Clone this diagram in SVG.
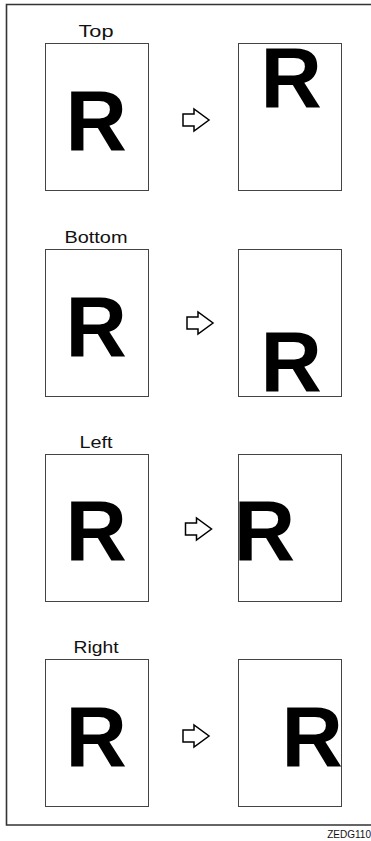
<svg xmlns="http://www.w3.org/2000/svg" width="371" height="841" viewBox="0 0 371 841">
<style>
.frame{fill:none;stroke:#333;stroke-width:1.6}
.page{fill:#fff;stroke:#444;stroke-width:1}
.lbl{font-family:"Liberation Sans",Arial,sans-serif;font-size:16px;fill:#111;text-anchor:middle}
.big{font-family:"Liberation Sans",Arial,sans-serif;font-size:85px;font-weight:bold;fill:#000}
.code{font-family:"Liberation Sans",Arial,sans-serif;font-size:10px;fill:#111;text-anchor:end}
.arrow{fill:#fff;stroke:#000;stroke-width:1.5;stroke-linejoin:miter}
</style>
<defs>
<path id="arr" d="M0,-6 H11 V-11 L26,0 L11,11 V6 H0 Z"/>
<clipPath id="cR"><rect x="238.5" y="659" width="103" height="148"/></clipPath>
</defs>
<rect width="371" height="841" fill="#fff"/>
<path class="frame" d="M373,4.5 H6.5 V825 H373"/>

<g id="top-before">
<text class="lbl" x="96" y="36.7" textLength="35" lengthAdjust="spacingAndGlyphs">Top</text>
<rect class="page" x="45.5" y="43.5" width="103" height="147"/>
<text class="big" x="65.5" y="150">R</text>
</g>
<g id="top-after">
<rect class="page" x="238.5" y="43.5" width="103" height="147"/>
<text class="big" x="260.5" y="107.3">R</text>
</g>

<g id="bottom-before">
<text class="lbl" x="96" y="242.7" textLength="63" lengthAdjust="spacingAndGlyphs">Bottom</text>
<rect class="page" x="45.5" y="249.5" width="103" height="147"/>
<text class="big" x="65.5" y="355.5">R</text>
</g>
<g id="bottom-after">
<rect class="page" x="238.5" y="249.5" width="103" height="147"/>
<text class="big" x="260.5" y="390.7">R</text>
</g>

<g id="left-before">
<text class="lbl" x="96" y="448.3" textLength="33" lengthAdjust="spacingAndGlyphs">Left</text>
<rect class="page" x="45.5" y="454.5" width="103" height="147"/>
<text class="big" x="65.5" y="560">R</text>
</g>
<g id="left-after">
<rect class="page" x="238.5" y="454.5" width="103" height="147"/>
<text class="big" x="233.8" y="560">R</text>
</g>

<g id="right-before">
<text class="lbl" x="96" y="652.7" textLength="45" lengthAdjust="spacingAndGlyphs">Right</text>
<rect class="page" x="45.5" y="659.5" width="103" height="147"/>
<text class="big" x="65.5" y="766">R</text>
</g>
<g id="right-after">
<rect class="page" x="238.5" y="659.5" width="103" height="147"/>
<text class="big" x="281.5" y="765.5" clip-path="url(#cR)">R</text>
</g>

<g id="connectors">
<use href="#arr" class="arrow" transform="translate(183,120)"/>
<use href="#arr" class="arrow" transform="translate(187,323)"/>
<use href="#arr" class="arrow" transform="translate(185.5,529)"/>
<use href="#arr" class="arrow" transform="translate(183,736)"/>
</g>

<text class="code" x="371" y="837.5">ZEDG110</text>
</svg>
